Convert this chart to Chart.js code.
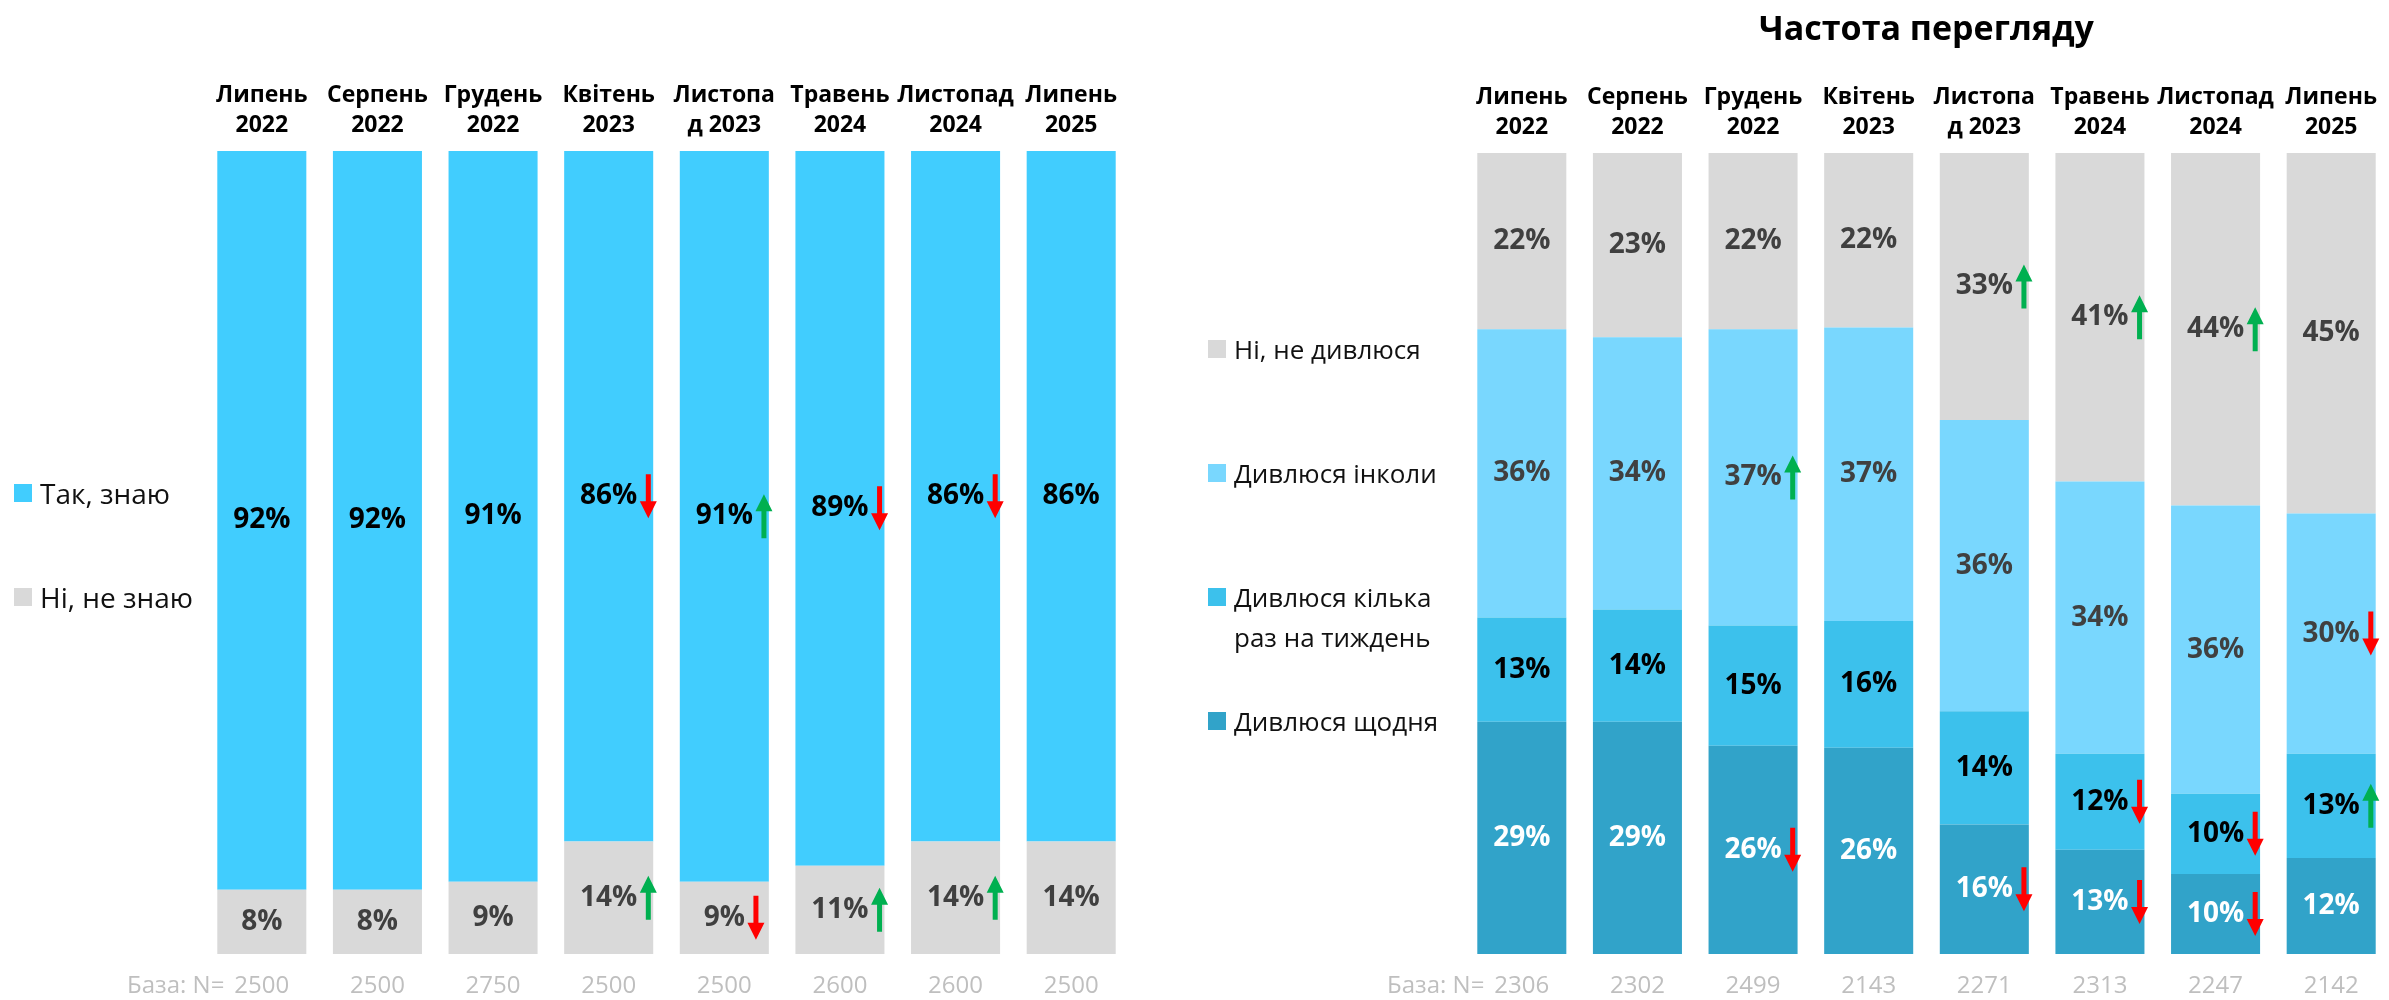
<!DOCTYPE html>
<html>
<head>
<meta charset="utf-8">
<script src="https://cdn.jsdelivr.net/npm/chart.js@4.4.1/dist/chart.umd.min.js"></script>
<style>
  html, body { margin: 0; padding: 0; background: #fff; }
  body { width: 2389px; height: 1000px; position: relative; overflow: hidden; font-family: "Open Sans", "Noto Sans", sans-serif; }
  canvas { position: absolute; top: 0; }
  #leftCanvas { left: 0; }
  #rightCanvas { left: 1180px; }
  .lg-item { position: absolute; display: flex; align-items: flex-start; color: #111; white-space: pre-line; }
  .lg-swatch { width: 18px; height: 18px; flex: none; }
</style>
</head>
<body>
<canvas id="leftCanvas" width="1180" height="1000"></canvas>
<canvas id="rightCanvas" width="1209" height="1000"></canvas>
<div id="leftLegend"></div>
<div id="rightLegend"></div>
<script>
const FONT = '"Open Sans", "Noto Sans", sans-serif';

// --- data: left chart (awareness) ---
const months = [['Липень', '2022'], ['Серпень', '2022'], ['Грудень', '2022'], ['Квітень', '2023'],
  ['Листопа', 'д 2023'], ['Травень', '2024'], ['Листопад', '2024'], ['Липень', '2025']];
const leftBases = ['2500', '2500', '2750', '2500', '2500', '2600', '2600', '2500'];
const knowYes = [92, 92, 91, 86, 91, 89, 86, 86];
const knowNo = [8, 8, 9, 14, 9, 11, 14, 14];
const knowYesTrend = [0, 0, 0, -1, 1, -1, -1, 0];   // 1 = up arrow, -1 = down arrow
const knowNoTrend = [0, 0, 0, 1, -1, 1, 1, 0];

// --- data: right chart (frequency) ---
const rightBases = ['2306', '2302', '2499', '2143', '2271', '2313', '2247', '2142'];
const watchNever = [22, 23, 22, 22, 33, 41, 44, 45];
const watchSometimes = [36, 34, 37, 37, 36, 34, 36, 30];
const watchWeekly = [13, 14, 15, 16, 14, 12, 10, 13];
const watchDaily = [29, 29, 26, 26, 16, 13, 10, 12];
const watchNeverTrend = [0, 0, 0, 0, 1, 1, 1, 0];
const watchSometimesTrend = [0, 0, 1, 0, 0, 0, 0, -1];
const watchWeeklyTrend = [0, 0, 0, 0, 0, -1, -1, 1];
const watchDailyTrend = [0, 0, -1, 0, -1, -1, -1, 0];

// 100% stacked: each column scaled to its own total
function shares(series) {
  const totals = series[0].map((_, i) => series.reduce((s, arr) => s + arr[i], 0));
  return series.map(arr => arr.map((v, i) => v / totals[i] * 100));
}

function drawArrow(ctx, x, cy, dir) {
  const half = 22, shaft = 5, head = 17, headLen = 17;
  const tipY = cy - dir * half, tailY = cy + dir * half, baseY = tipY + dir * headLen;
  ctx.fillStyle = dir > 0 ? '#00B050' : '#FF0000';
  ctx.beginPath();
  ctx.moveTo(x - shaft / 2, tailY);
  ctx.lineTo(x - shaft / 2, baseY);
  ctx.lineTo(x - head / 2, baseY);
  ctx.lineTo(x, tipY);
  ctx.lineTo(x + head / 2, baseY);
  ctx.lineTo(x + shaft / 2, baseY);
  ctx.lineTo(x + shaft / 2, tailY);
  ctx.closePath();
  ctx.fill();
}

// value labels + trend arrows inside each segment
const segmentLabels = {
  id: 'segmentLabels',
  afterDatasetsDraw(chart) {
    const ctx = chart.ctx;
    ctx.save();
    ctx.font = 'bold 28px ' + FONT;
    ctx.textAlign = 'center';
    ctx.textBaseline = 'middle';
    chart.data.datasets.forEach((ds, di) => {
      chart.getDatasetMeta(di).data.forEach((bar, i) => {
        const text = ds.raw[i] + '%';
        const y = (bar.y + bar.base) / 2;
        ctx.fillStyle = ds.labelColor;
        ctx.fillText(text, bar.x, y);
        if (ds.trend[i]) {
          const w = ctx.measureText(text).width;
          drawArrow(ctx, bar.x + w / 2 + 11, y, ds.trend[i]);
        }
      });
    });
    ctx.restore();
  }
};

// "База: N=" in front of the first base number
const basePrefix = {
  id: 'basePrefix',
  afterDraw(chart) {
    const sc = chart.scales.xb;
    const ctx = chart.ctx;
    ctx.save();
    ctx.font = '24px ' + FONT;
    const w = ctx.measureText(sc.getLabels()[0]).width;
    ctx.fillStyle = '#BFBFBF';
    ctx.textAlign = 'right';
    ctx.textBaseline = 'middle';
    ctx.fillText('База: N=', sc.getPixelForTick(0) - w / 2 - 10, sc.top + 18 + 14.4);
    ctx.restore();
  }
};

function makeChart(canvasId, datasets, bases, opts) {
  return new Chart(document.getElementById(canvasId), {
    type: 'bar',
    data: { labels: months, datasets: datasets },
    options: {
      responsive: false,
      animation: false,
      layout: { padding: { left: opts.padLeft, right: opts.padRight, top: 0, bottom: 0 } },
      plugins: {
        legend: { display: false },
        tooltip: { enabled: false },
        title: opts.title ? {
          display: true, text: opts.title, color: '#000',
          font: { family: FONT, size: 34, weight: 'bold', lineHeight: 1.2 },
          padding: { top: 10, bottom: 0 }
        } : { display: false }
      },
      scales: {
        x: {
          position: 'top', stacked: true,
          grid: { display: false, drawTicks: false }, border: { display: false },
          ticks: { autoSkip: false, maxRotation: 0, color: '#000', padding: 11,
            font: { family: FONT, size: 23, weight: 'bold', lineHeight: '30px' } },
          afterFit: s => { s.height = opts.topAxis; }
        },
        xb: {
          type: 'category', labels: bases, position: 'bottom',
          grid: { display: false, drawTicks: false }, border: { display: false },
          ticks: { autoSkip: false, maxRotation: 0, color: '#BFBFBF', padding: 18,
            font: { family: FONT, size: 24, lineHeight: 1.2 } },
          afterFit: s => { s.height = 46; }
        },
        y: { stacked: true, display: false, min: 0, max: 100 }
      }
    },
    plugins: [segmentLabels, basePrefix]
  });
}

function bar(label, data, raw, trend, color, labelColor) {
  return { label, data, raw, trend, backgroundColor: color, labelColor,
    borderWidth: 0, barPercentage: 0.77, categoryPercentage: 1 };
}

const leftShares = shares([knowNo, knowYes]);
const leftChart = makeChart('leftCanvas', [
  bar('Ні, не знаю', leftShares[0], knowNo, knowNoTrend, '#D9D9D9', '#404040'),
  bar('Так, знаю', leftShares[1], knowYes, knowYesTrend, '#41CDFE', '#000000')
], leftBases, { padLeft: 204, padRight: 51, topAxis: 151 });

const rightShares = shares([watchDaily, watchWeekly, watchSometimes, watchNever]);
const rightChart = makeChart('rightCanvas', [
  bar('Дивлюся щодня', rightShares[0], watchDaily, watchDailyTrend, '#31A3C9', '#FFFFFF'),
  bar('Дивлюся кілька\nраз на тиждень', rightShares[1], watchWeekly, watchWeeklyTrend, '#3CC1EC', '#000000'),
  bar('Дивлюся інколи', rightShares[2], watchSometimes, watchSometimesTrend, '#79D7FE', '#404040'),
  bar('Ні, не дивлюся', rightShares[3], watchNever, watchNeverTrend, '#D9D9D9', '#404040')
], rightBases, { padLeft: 284, padRight: 0, topAxis: 153 - 50.8, title: 'Частота перегляду' });

// html legends, listed top to bottom in reverse stacking order
function buildLegend(elId, chart, x, centers, size) {
  const el = document.getElementById(elId);
  chart.data.datasets.slice().reverse().forEach((ds, k) => {
    const item = document.createElement('div');
    item.className = 'lg-item';
    item.style.left = x + 'px';
    item.style.top = (centers[k] - 20) + 'px';
    item.style.fontSize = size + 'px';
    item.style.lineHeight = '40px';
    item.innerHTML = '<span class="lg-swatch" style="background:' + ds.backgroundColor +
      ';margin-top:11px;margin-right:8px"></span><span></span>';
    item.lastChild.textContent = ds.label;
    el.appendChild(item);
  });
}
buildLegend('leftLegend', leftChart, 14, [493, 597], 28);
buildLegend('rightLegend', rightChart, 1208, [349, 473, 597, 721], 26);
</script>
</body>
</html>
